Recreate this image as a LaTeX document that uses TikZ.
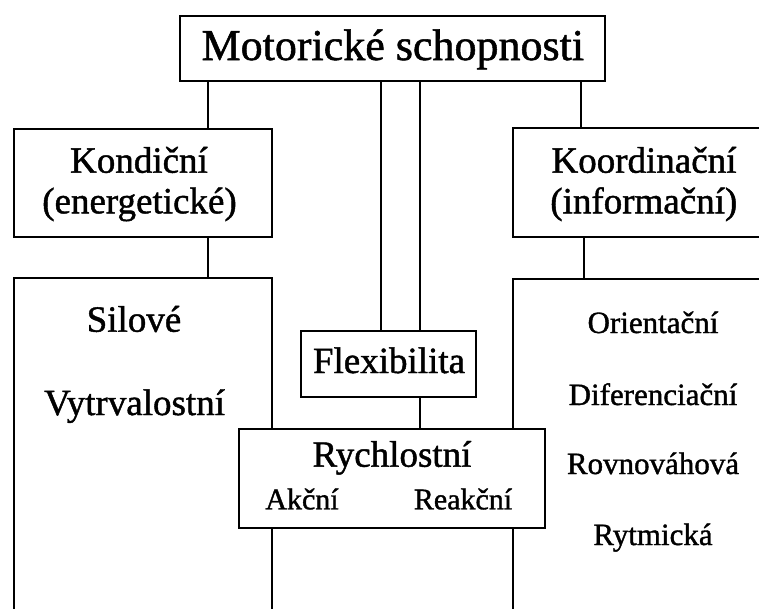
\documentclass[tikz,border=0pt]{standalone}
\usepackage{fontspec}
\setmainfont[FakeBold=1.2]{Liberation Serif}
\begin{document}
\begin{tikzpicture}[x=1pt,y=-1pt,
  box/.style={draw, line width=1.8pt, inner sep=0pt, fill=white, rectangle},
  lbl/.style={anchor=base, inner sep=0pt},
  big/.style={font=\fontsize{37}{41}\selectfont},
  huge/.style={font=\fontsize{44}{48}\selectfont},
  small/.style={font=\fontsize{31}{35}\selectfont},
  tiny/.style={font=\fontsize{30}{34}\selectfont},
  link/.style={line width=1.8pt}]
\useasboundingbox (0,0) rectangle (759,608);
\clip (0,0) rectangle (759,608);

% column positions of the vertical links
\coordinate (xa) at (208,0);
\coordinate (xb) at (381,0);
\coordinate (xc) at (420,0);
\coordinate (xd) at (581,0);
\coordinate (xe) at (584,0);

% boxes
\node[box, minimum width=425, minimum height=65] (top) at (392.5,48.5) {};
\node[box, minimum width=258, minimum height=108] (kond) at (143,183) {};
\node[box, minimum width=287, minimum height=109] (koord) at (656.5,182.5) {};
\node[box, minimum width=258, minimum height=362] (kondlist) at (143,459) {};
\node[box, minimum width=287, minimum height=361] (koordlist) at (656.5,459.5) {};
\node[box, minimum width=306, minimum height=99] (rych) at (392,478.5) {};
\node[box, minimum width=175, minimum height=66] (flex) at (388.5,364) {};

% links
\draw[link] (top.south -| xa) -- (kond.north -| xa);
\draw[link] (top.south -| xb) -- (flex.north -| xb);
\draw[link] (top.south -| xc) -- (flex.north -| xc);
\draw[link] (top.south -| xd) -- (koord.north -| xd);
\draw[link] (kond.south -| xa) -- (kondlist.north -| xa);
\draw[link] (koord.south -| xe) -- (koordlist.north -| xe);
\draw[link] (flex.south -| xc) -- (rych.north -| xc);

% labels
\node[lbl, huge] (tTop) at (392.8,60) {Motorické schopnosti};
\node[lbl, big] (tKond1) at (139,172.7) {Kondiční};
\node[lbl, big] (tKond2) at (139.5,213.3) {(energetické)};
\node[lbl, big] (tKoord1) at (644,172.7) {Koordinační};
\node[lbl, big] (tKoord2) at (643.8,213.3) {(informační)};
\node[lbl, big] (tSil) at (134,331.7) {Silové};
\node[lbl, big] (tVytr) at (134.5,415) {Vytrvalostní};
\node[lbl, small] (tOri) at (653,333) {Orientační};
\node[lbl, small] (tDif) at (653,405) {Diferenciační};
\node[lbl, small] (tRov) at (653,474) {Rovnováhová};
\node[lbl, small] (tRyt) at (653,545) {Rytmická};
\node[lbl, big] (tFlex) at (389,373) {Flexibilita};
\node[lbl, big] (tRych) at (392,466.7) {Rychlostní};
\node[lbl, tiny] (tAkc) at (302,509.3) {Akční};
\node[lbl, tiny] (tReak) at (463,509.3) {Reakční};
\end{tikzpicture}
\end{document}
